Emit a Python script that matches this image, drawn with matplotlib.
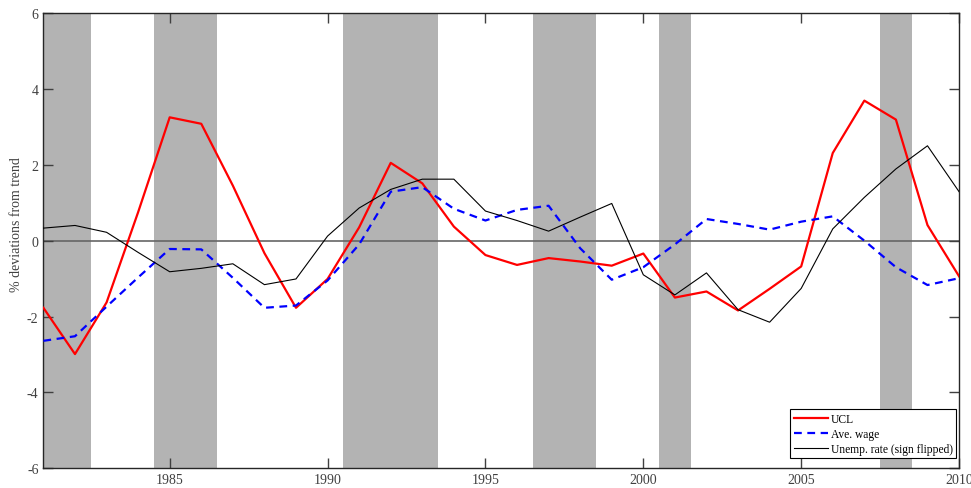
import matplotlib.pyplot as plt
import numpy as np

# yearly data, 1981-2010 (% deviations from trend)
years = np.arange(1981, 2011)

ucl = [-1.77, -2.99, -1.63, 0.75, 3.25, 3.08, 1.45, -0.33, -1.77, -1.01,
       0.35, 2.05, 1.51, 0.37, -0.38, -0.64, -0.46, -0.55, -0.66, -0.34,
       -1.50, -1.34, -1.84, -1.27, -0.68, 2.31, 3.69, 3.19, 0.41, -0.94]

wage = [-2.64, -2.52, -1.74, -0.97, -0.22, -0.23, -0.98, -1.77, -1.71, -1.05,
        -0.10, 1.29, 1.41, 0.84, 0.53, 0.81, 0.92, -0.20, -1.03, -0.70,
        -0.10, 0.57, 0.44, 0.29, 0.50, 0.64, 0.00, -0.70, -1.17, -0.99]

unemp = [0.33, 0.40, 0.22, -0.31, -0.82, -0.73, -0.61, -1.16, -1.01, 0.12,
         0.86, 1.35, 1.62, 1.62, 0.78, 0.53, 0.25, 0.62, 0.98, -0.90,
         -1.43, -0.85, -1.82, -2.15, -1.26, 0.31, 1.14, 1.89, 2.50, 1.29]

# recession shading (start, end)
shade = [(1981, 1982.5), (1984.5, 1986.5), (1990.5, 1993.5),
         (1996.5, 1998.5), (2000.5, 2001.5), (2007.5, 2008.5)]

plt.rcParams['font.family'] = ['Liberation Serif', 'DejaVu Serif']
plt.rcParams['axes.unicode_minus'] = False

fig = plt.figure(figsize=(9.71, 4.89), dpi=100)
ax = fig.add_axes([0.0447, 0.0403, 0.9430, 0.9311])

for s, e in shade:
    ax.axvspan(s, e, color='#b3b3b3', lw=0, zorder=0)

ax.axhline(0, color='#666666', lw=1.2, zorder=1)

ax.plot(years, ucl, color='red', lw=1.6, label='UCL', zorder=3)
ax.plot(years, wage, color='blue', lw=1.6, ls=(0, (3.5, 2.5)), label='Ave. wage', zorder=3)
ax.plot(years, unemp, color='black', lw=0.8, label='Unemp. rate (sign flipped)', zorder=3)

ax.set_xlim(1981, 2010)
ax.set_ylim(-6, 6)
ax.set_xticks(np.arange(1985, 2011, 5))
ax.set_yticks(np.arange(-6, 7, 2))
ax.tick_params(direction='in', top=True, right=True, length=7, width=1,
               labelsize=10, colors='#404040')
for sp in ax.spines.values():
    sp.set_color('#262626')
    sp.set_linewidth(1)

ax.set_ylabel('% deviations from trend', fontsize=10, color='#404040')
ax.yaxis.set_label_coords(-0.0225, 0.537)

leg = ax.legend(loc='lower right', bbox_to_anchor=(0.9967, 0.0226),
                fontsize=8.3, fancybox=False, framealpha=1,
                edgecolor='black', borderaxespad=0, handlelength=3.0,
                borderpad=0.3, labelspacing=0.25, handletextpad=0.2)
leg.get_frame().set_linewidth(0.8)

fig.savefig('out.png', dpi=100)
